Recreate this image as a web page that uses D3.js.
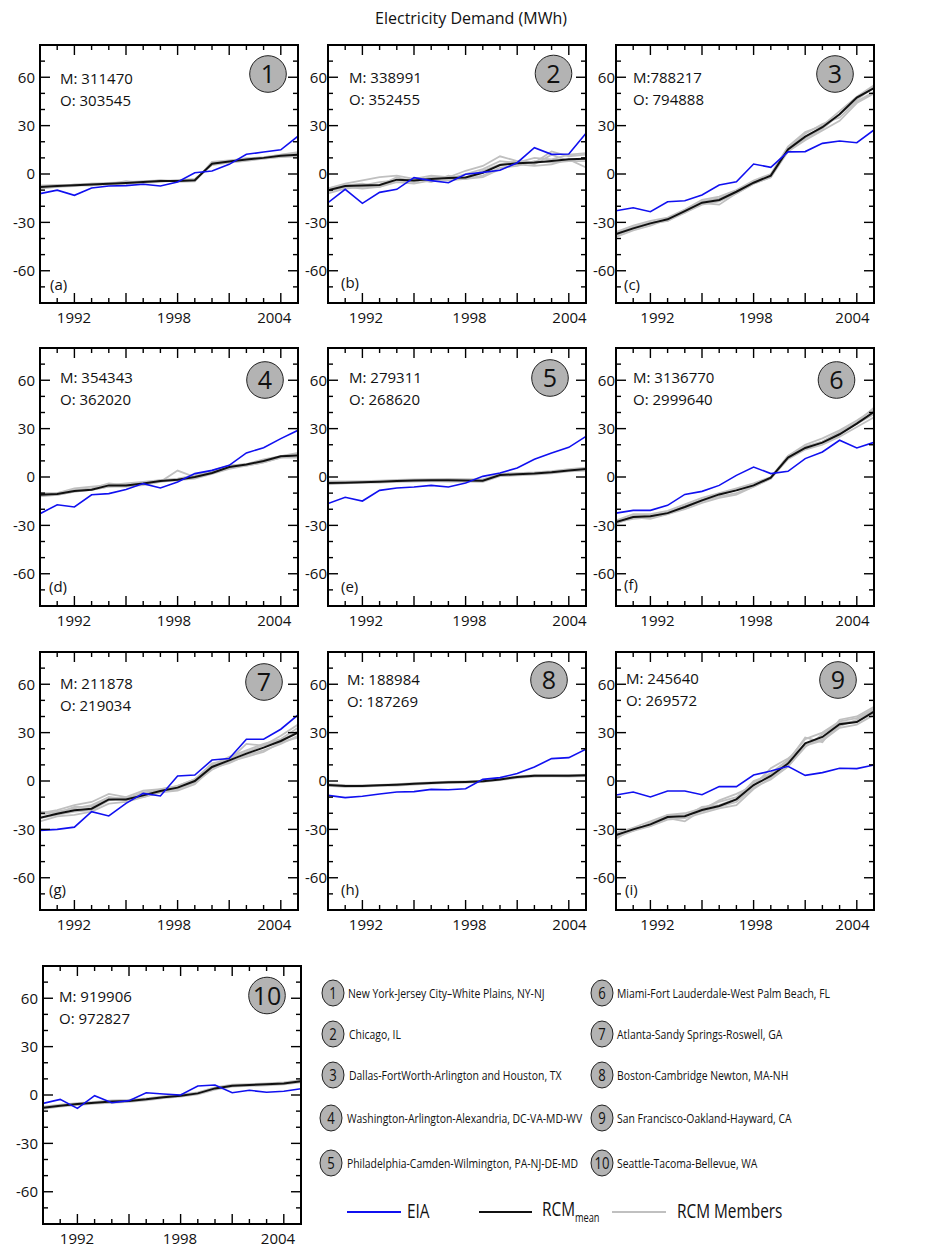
<!DOCTYPE html>
<html><head><meta charset="utf-8">
<script src="https://cdn.jsdelivr.net/npm/d3@7"></script>
<style>
body{margin:0;background:#fff}
svg{display:block}
text{font-family:"Open Sans",sans-serif;fill:#111}
</style>
</head><body>
<svg id="chart" width="942" height="1251"></svg>
<script>
// ---------------- DATA ----------------
const years = [1990,1991,1992,1993,1994,1995,1996,1997,1998,1999,2000,2001,2002,2003,2004,2005];
const xTickLabels = [1992, 1998, 2004];
const xMajorTicks = [1992, 1995, 1998, 2001, 2004];
const yTickLabels = [-60, -30, 0, 30, 60];
const yMinorTicks = [-70, -50, -40, -20, -10, 10, 20, 40, 50, 70];

const panelLetters = ["a","b","c","d","e","f","g","h","i",null];
const panelNumbers = ["1","2","3","4","5","6","7","8","9","10"];
const modelLabels = ["M: 311470","M: 338991","M:788217","M: 354343","M: 279311","M: 3136770","M: 211878","M: 188984","M: 245640","M: 919906"];
const obsLabels   = ["O: 303545","O: 352455","O: 794888","O: 362020","O: 268620","O: 2999640","O: 219034","O: 187269","O: 269572","O: 972827"];

const cities = [
  "New York-Jersey City–White Plains, NY-NJ",
  "Chicago, IL",
  "Dallas-FortWorth-Arlington and Houston, TX",
  "Washington-Arlington-Alexandria, DC-VA-MD-WV",
  "Philadelphia-Camden-Wilmington, PA-NJ-DE-MD",
  "Miami-Fort Lauderdale-West Palm Beach, FL",
  "Atlanta-Sandy Springs-Roswell, GA",
  "Boston-Cambridge Newton, MA-NH",
  "San Francisco-Oakland-Hayward, CA",
  "Seattle-Tacoma-Bellevue, WA"
];
const legendSeries = ["EIA", "RCM", "RCM Members"];

// EIA observations (% anomaly)
const eia_a = [-12.2,-10,-13.2,-8.7,-7.4,-7.2,-6.4,-7.4,-5,0.8,1.9,6,12.2,13.6,15,23.5];
const eia_b = [-17.8,-9.5,-18.2,-11.4,-9.5,-2.3,-4.1,-5.4,-0.2,1,2.3,7,16.3,12.2,12.4,25.2];
const eia_c = [-22.8,-20.9,-23.4,-17.2,-16.6,-13,-6.8,-4.8,6.2,4.1,13.7,13.9,19,20.5,19.4,27.3];
const eia_d = [-22.8,-17.2,-18.6,-11,-10.3,-7.7,-4.1,-6.8,-3.1,2.1,4.1,7.2,14.9,18.2,23.8,29];
const eia_e = [-16.5,-12.6,-14.9,-8.3,-6.8,-6.2,-5.2,-6.2,-3.7,0.4,2.5,5.6,11,14.9,18.4,25.2];
const eia_f = [-22.4,-20.7,-20.7,-17.6,-10.8,-8.9,-5.2,1,6.2,2.1,3.5,11.4,15.5,22.8,18,21.5];
const eia_g = [-30.6,-30,-28.6,-19,-21.7,-13.9,-7.7,-9.3,3.1,3.7,13,13.9,25.9,25.9,32.1,41];
const eia_h = [-8.9,-10.3,-9.5,-8.1,-6.8,-6.6,-5.2,-5.4,-4.8,1,2.1,4.6,8.7,13.9,14.5,19.7];
const eia_i = [-8.7,-6.8,-9.9,-6.2,-6.2,-8.5,-3.5,-3.5,3.7,6.2,9.1,3.5,5.2,7.9,7.7,9.9];
const eia_j = [-5.2,-2.7,-8.3,-0.4,-4.8,-3.5,1.4,0.6,0,5.6,6.2,1.4,2.9,1.7,2.3,3.9];

// RCM ensemble mean
const mean_a = [-8,-7.5,-7,-6.5,-6,-5.6,-5,-4.3,-4.3,-3.9,6.4,7.8,9,10,11.3,12];
const mean_b = [-10.1,-7.4,-7.2,-6.8,-3.5,-4.1,-3.1,-2.5,-2.1,0.8,5.6,6.6,7.2,8.1,9.1,9.5];
const mean_c = [-37.2,-33.7,-30.6,-28.1,-23,-17.8,-16.1,-11,-5.4,-1,15.3,23.2,29,37,47.4,53.2];
const mean_d = [-11,-10.6,-8.7,-7.9,-5.2,-5.2,-4.1,-2.5,-1.7,0,2.5,6.2,7.7,9.9,12.8,13.4];
const mean_e = [-3.7,-3.5,-3.2,-2.9,-2.5,-2.2,-2,-2,-2.1,-2.3,1.2,1.7,2.1,2.9,4.1,5];
const mean_f = [-28,-24.8,-24.4,-22.4,-18.6,-14.5,-10.8,-8.3,-5.2,-0.4,12,18,21.3,26.5,33.1,40.4];
const mean_g = [-22.8,-20.3,-18.2,-17.2,-11.4,-11.4,-8.9,-6.2,-4.1,0,8.7,12.8,17,20.7,24.8,30];
const mean_h = [-2.5,-3.1,-3.1,-2.7,-2.3,-1.7,-1.2,-0.8,-0.6,-0.2,1,2.5,3.3,3.3,3.3,3.5];
const mean_i = [-33.5,-30,-26.9,-22.3,-21.9,-18,-15.5,-11.4,-2.5,3.1,10.8,23.4,27.3,35.2,36.6,43];
const mean_j = [-7.9,-6.6,-5.6,-4.8,-4.1,-3.7,-2.7,-1.4,-0.4,1,4.1,5.8,6.2,6.6,7.2,8.5];

// RCM ensemble members
const members_a = [
  [-9,-8,-6.5,-6,-5.5,-5,-4.5,-4,-4.8,-4.5,7.5,8.5,9.5,10.5,11.8,13],
  [-7,-7,-6.8,-7,-6.3,-4.5,-5.5,-4.8,-4,-3,5.5,7,8.2,9.5,10.5,11],
  [-8.5,-8,-7.5,-6,-6.5,-6,-4.8,-4.5,-3.8,-4.2,7,8,9.8,10.2,12,13.5],
  [-7.5,-6.8,-7.2,-7,-5.8,-5.8,-5.2,-3.8,-4.6,-3.5,6,7.4,8.6,9.6,10.8,11.5]
];
const members_b = [
  [-9,-6,-4,-2,-1,-3,-1,-2,2,5,11,8,7,14,11,12],
  [-11,-8,-9,-8,-5,-6,-4,-4,-3,-1,4,5,8,7,8,10],
  [-12,-9,-8,-7,-2,-5,-2,-3,0,3,8,7,10,9,12,13],
  [-10,-7,-6,-8,-4,-3,-5,-1,-3,-2,3,6,5,6,9,4],
  [-9,-7,-7,-5,-4,-5,-2,-3,-2,2,6,8,6,12,8,8]
];
const members_c = [
  [-38,-34,-31,-29,-24,-18,-19,-12,-6,-2,16,25,31,35,45,51],
  [-36,-32,-29,-27,-22,-16,-14,-10,-4,0,17,26,30,39,48,55],
  [-39,-35,-32,-28,-24,-19,-17,-12,-6,-2,14,21,27,33,44,50],
  [-37,-33,-30,-29,-23,-17,-15,-11,-5,-1,15,22,28,37,46,54]
];
const members_d = [
  [-12,-11,-9,-8,-6,-5,-4,-3,4,0,3,6,7,9,12,14],
  [-10,-10,-7,-6,-5,-4,-3,-2,-1,1,4,7,8,11,13,15],
  [-11,-11,-9,-8,-6,-6,-5,-3,-2,-1,2,5,7,9,12,12],
  [-12,-10,-8,-7,-4,-5,-4,-2,-2,1,3,7,8,10,13,14]
];
const members_e = [
  [-4.5,-4,-3.5,-3.5,-3,-2.8,-2.5,-2.8,-2.8,-3,0.5,1,1.5,2.2,3.5,4],
  [-2.8,-2.8,-2.5,-2.2,-1.8,-1.5,-1.3,-1.2,-1.4,-1.5,2,2.4,2.8,3.6,4.8,5.8],
  [-3.5,-3.8,-3,-3.2,-2.2,-2.5,-2.2,-1.8,-2.4,-2,1,1.5,2.4,2.6,3.8,5.2],
  [-4,-3.2,-3.4,-2.6,-2.8,-2,-1.8,-2.3,-1.8,-2.6,1.4,2,1.8,3.2,4.4,4.6]
];
const members_f = [
  [-29,-25,-26,-23,-19,-15,-12,-10,-6,-1,13,20,24,29,35,42],
  [-27,-23,-23,-21,-17,-13,-10,-7,-4,0,13,19,22,28,34,43],
  [-28,-26,-25,-23,-20,-16,-13,-11,-6,-1,11,17,20,25,31,37],
  [-29,-24,-24,-22,-18,-14,-11,-8,-5,-1,12,18,22,27,33,39]
];
const members_g = [
  [-20,-18,-15,-13,-8,-10,-6,-5,-3,1,10,15,19,23,26,33],
  [-25,-22,-21,-19,-14,-13,-10,-7,-6,-2,8,11,16,19,23,28],
  [-19,-20,-16,-16,-10,-12,-8,-5,-4,1,11,13,23,22,28,35],
  [-23,-21,-19,-18,-12,-10,-10,-7,-5,-1,7,12,15,18,24,27],
  [-21,-19,-17,-15,-10,-11,-7,-6,-3,1,9,14,18,22,25,31]
];
const members_h = [
  [-3,-3.6,-3.5,-3,-2.8,-2.2,-1.6,-1.2,-1,-0.6,0.6,2,2.8,2.9,2.8,3],
  [-2,-2.6,-2.7,-2.4,-1.9,-1.3,-0.8,-0.4,-0.2,0.2,1.4,2.9,3.7,3.8,3.7,4],
  [-2.6,-3.3,-2.9,-2.9,-2.1,-1.9,-1,-1,-0.5,-0.4,1.2,2.3,3.4,3,3.5,3.3]
];
const members_i = [
  [-35,-31,-28,-24,-23,-20,-17,-15,-5,2,9,22,25,33,35,41],
  [-32,-29,-25,-21,-20,-17,-13,-10,-1,5,13,26,30,37,39,45],
  [-34,-30,-27,-23,-25,-18,-12,-8,-3,8,14,22,26,34,38,44],
  [-33,-31,-26,-22,-21,-19,-16,-13,-4,1,9,21,29,36,37,42],
  [-36,-29,-28,-21,-22,-16,-15,-11,0,4,12,27,24,38,40,46]
];
const members_j = [
  [-8.6,-7.2,-6.2,-5.4,-4.8,-4.3,-3.3,-2,-1,0.4,3.4,5.2,5.6,6,6.6,7.8],
  [-7.2,-6,-5,-4.2,-3.4,-3.1,-2.1,-0.8,0.2,1.6,4.8,6.4,6.8,7.2,7.8,9.2],
  [-8,-6.8,-5.4,-5,-4,-3.5,-2.9,-1.2,-0.6,1.2,3.9,6,6,6.9,7,8.8]
];

// table built from the arrays above
const eiaSeries = [eia_a,eia_b,eia_c,eia_d,eia_e,eia_f,eia_g,eia_h,eia_i,eia_j];
const meanSeries = [mean_a,mean_b,mean_c,mean_d,mean_e,mean_f,mean_g,mean_h,mean_i,mean_j];
const memberSeries = [members_a,members_b,members_c,members_d,members_e,members_f,members_g,members_h,members_i,members_j];

// ---------------- LAYOUT ----------------
const W = 258, H = 258;
const panelPos = [[40,45],[328,45],[616,45],[40,348],[328,348],[616,348],[40,652],[328,652],[616,652],[43,966]];
const panelCol = [0,1,2,0,1,2,0,1,2,0];
const textOff = [[20,39],[21,38],[17,38],[20,35],[21,35],[17,35],[20,37],[19,33],[10,32],[16,36]];
const circOff = [[30,29],[32.5,28.5],[39,29],[33,32],[36,30],[37.5,32],[34,30],[37,28],[36,28],[34,29.5]];
const letterOff = [[10,13],[13,15],[8,13],[9,14],[13,14],[8,16],[9,15],[13,15],[9,15],null];
const xLabelShift = [[-0.4,-3.6,-6.5],[3.6,3.9,0.7],[7.1,2.2,-4.3],[-0.4,-3.6,-6.5],[3.6,3.9,0.7],[7.1,2.2,-4.3],[-0.4,-3.6,-6.5],[3.6,3.9,0.7],[7.1,2.2,-4.3],[-0.4,-0.6,-5.8]];
const yLabelGap = [5,1,1];

const COLORS = {eia:"#1010f0", mean:"#111", member:"#c0c0c0", circle:"#b3b3b3"};

const svg = d3.select("#chart");

svg.append("text").attr("x", 471).attr("y", 24).attr("text-anchor","middle")
  .style("font-size","16px").text("Electricity Demand (MWh)");

const x = d3.scaleLinear().domain([1990, 2005]).range([0, W]);
const y = d3.scaleLinear().domain([-80, 80]).range([H, 0]);
const line = d3.line().x((d,i) => x(years[i])).y(d => y(d));

const defs = svg.append("defs");
defs.append("clipPath").attr("id","plotclip").append("rect").attr("width",W).attr("height",H);

eiaSeries.forEach((eia, p) => {
  const [px, py] = panelPos[p];
  const g = svg.append("g").attr("transform", `translate(${px},${py})`);
  const plot = g.append("g").attr("clip-path","url(#plotclip)");
  plot.selectAll("path.member").data(memberSeries[p]).join("path")
    .attr("class","member").attr("d", line)
    .attr("fill","none").attr("stroke",COLORS.member).attr("stroke-width",1.8);
  plot.append("path").attr("d", line(meanSeries[p]))
    .attr("fill","none").attr("stroke",COLORS.mean).attr("stroke-width",2);
  plot.append("path").attr("d", line(eia))
    .attr("fill","none").attr("stroke",COLORS.eia).attr("stroke-width",1.6);

  // ticks (inward on all four sides)
  const tickG = g.append("g").attr("stroke","#000").attr("stroke-width",1.4);
  years.forEach(yr => {
    const len = xMajorTicks.includes(yr) ? 10 : 5;
    tickG.append("line").attr("x1",x(yr)).attr("x2",x(yr)).attr("y1",H).attr("y2",H-len);
    tickG.append("line").attr("x1",x(yr)).attr("x2",x(yr)).attr("y1",0).attr("y2",len);
  });
  yTickLabels.concat(yMinorTicks).forEach(v => {
    const len = yTickLabels.includes(v) ? 10 : 5;
    tickG.append("line").attr("y1",y(v)).attr("y2",y(v)).attr("x1",0).attr("x2",len);
    tickG.append("line").attr("y1",y(v)).attr("y2",y(v)).attr("x1",W).attr("x2",W-len);
  });
  g.append("rect").attr("width",W).attr("height",H)
    .attr("fill","none").attr("stroke","#000").attr("stroke-width",2);

  // tick labels
  g.selectAll("text.ylab").data(yTickLabels).join("text").attr("class","ylab")
    .attr("x", -yLabelGap[panelCol[p]]).attr("y", d => y(d)).attr("dy","0.36em")
    .attr("text-anchor","end").style("font-size","15px").text(d => d);
  g.selectAll("text.xlab").data(xTickLabels).join("text").attr("class","xlab")
    .attr("x", (d,i) => x(d) + xLabelShift[p][i]).attr("y", H + 20)
    .attr("text-anchor","middle").style("font-size","15px").text(d => d);

  // annotations
  g.append("text").attr("x", textOff[p][0]).attr("y", textOff[p][1]).style("font-size","15px").text(modelLabels[p]);
  g.append("text").attr("x", textOff[p][0]).attr("y", textOff[p][1] + 21.5).style("font-size","15px").text(obsLabels[p]);
  g.append("circle").attr("cx", W - circOff[p][0]).attr("cy", circOff[p][1]).attr("r", 18.3)
    .attr("fill", COLORS.circle).attr("stroke","#222").attr("stroke-width",1);
  g.append("text").attr("x", W - circOff[p][0]).attr("y", circOff[p][1]).attr("dy","0.36em")
    .attr("text-anchor","middle").style("font-size","25px").text(panelNumbers[p]);
  if (panelLetters[p]) {
    g.append("text").attr("x", letterOff[p][0]).attr("y", H - letterOff[p][1])
      .style("font-size","15px").text(`(${panelLetters[p]})`);
  }
});

// ---------------- LEGEND ----------------
const SX = 0.77;
const legRowY = [993, 1034, 1075, 1118, 1163];
const legCircX = [[333,333,333,331,331],[602,602,602,602,602]];
const legTextX = [[348,349,349,347,347],[617,617,617,617,617]];
cities.forEach((c, i) => {
  const col = Math.floor(i / 5), row = i % 5;
  const cx = legCircX[col][row], cy = legRowY[row];
  svg.append("ellipse").attr("cx", cx).attr("cy", cy).attr("rx", 11).attr("ry", 13)
    .attr("fill", COLORS.circle).attr("stroke","#222").attr("stroke-width",1);
  svg.append("text").attr("transform", `translate(${cx},${cy}) scale(${SX},1)`)
    .attr("dy","0.36em").attr("text-anchor","middle").style("font-size","17px").text(panelNumbers[i]);
  svg.append("text").attr("transform", `translate(${legTextX[col][row]},${cy + 4.5}) scale(${SX},1)`)
    .style("font-size","13.5px").text(c);
});

const legLineY = 1212;
svg.append("line").attr("x1",347).attr("x2",401).attr("y1",legLineY).attr("y2",legLineY)
  .attr("stroke",COLORS.eia).attr("stroke-width",2);
svg.append("text").attr("transform",`translate(407,1218) scale(${SX},1)`).style("font-size","20px").text(legendSeries[0]);
svg.append("line").attr("x1",479).attr("x2",532).attr("y1",legLineY).attr("y2",legLineY)
  .attr("stroke",COLORS.mean).attr("stroke-width",2.2);
const rcm = svg.append("text").attr("transform",`translate(542,1216) scale(${SX},1)`).style("font-size","20px");
rcm.append("tspan").text(legendSeries[1]);
rcm.append("tspan").attr("dy", 6).style("font-size","12px").text("mean");
svg.append("line").attr("x1",612).attr("x2",666).attr("y1",legLineY).attr("y2",legLineY)
  .attr("stroke",COLORS.member).attr("stroke-width",2);
svg.append("text").attr("transform",`translate(677,1218) scale(${SX},1)`).style("font-size","20px").text(legendSeries[2]);
</script>
</body></html>
